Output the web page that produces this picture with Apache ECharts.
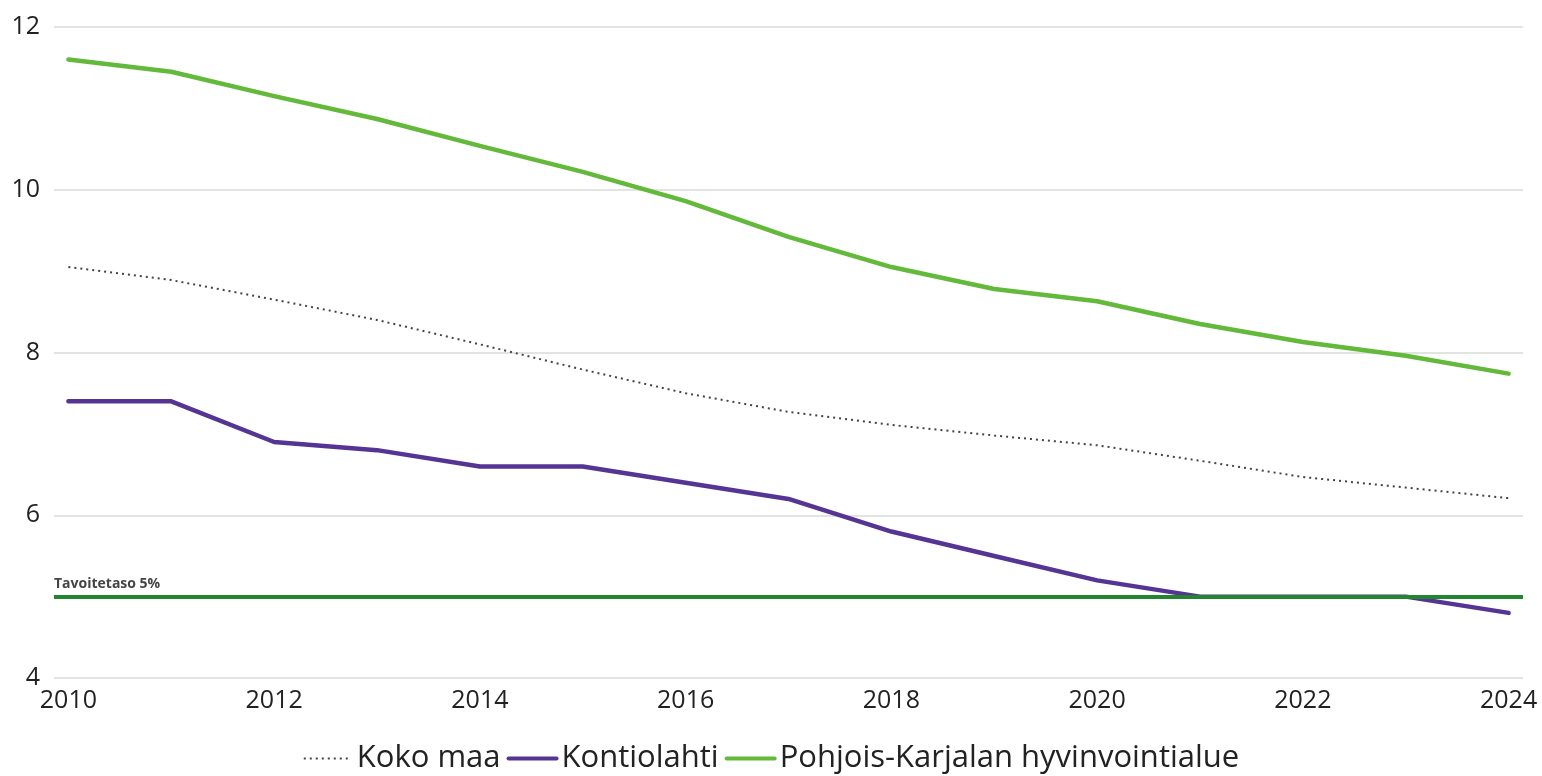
<!DOCTYPE html>
<html>
<head>
<meta charset="utf-8">
<script src="https://cdn.jsdelivr.net/npm/echarts@6/dist/echarts.min.js"></script>
<style>
  html, body { margin: 0; padding: 0; background: #fff; }
  #chart { width: 1542px; height: 776px; }
</style>
</head>
<body>
<div id="chart"></div>
<script>
const years = [2010, 2011, 2012, 2013, 2014, 2015, 2016, 2017, 2018, 2019, 2020, 2021, 2022, 2023, 2024];
const yearLabels = [2010, 2012, 2014, 2016, 2018, 2020, 2022, 2024];
const kokoMaa = [9.05, 8.89, 8.65, 8.4, 8.1, 7.79, 7.5, 7.27, 7.11, 6.98, 6.86, 6.67, 6.47, 6.34, 6.21];
const kontiolahti = [7.4, 7.4, 6.9, 6.8, 6.6, 6.6, 6.4, 6.2, 5.8, 5.5, 5.2, 5.0, 5.0, 5.0, 4.8];
const pohjoisKarjala = [11.6, 11.45, 11.15, 10.87, 10.54, 10.22, 9.86, 9.42, 9.05, 8.78, 8.63, 8.35, 8.13, 7.96, 7.74];
const targetLevel = 5;
const targetLabel = 'Tavoitetaso 5%';

const font = '"Open Sans", "Noto Sans", sans-serif';
const pair = (vals) => years.map((y, i) => [y, vals[i]]);

const chart = echarts.init(document.getElementById('chart'));
chart.setOption({
    animation: false,
    textStyle: { fontFamily: font },
    grid: { left: 54, right: 19, top: 27, bottom: 98 },
    legend: {
        bottom: -3,
        left: 'center',
        itemWidth: 48,
        itemHeight: 14,
        itemGap: 6,
        itemStyle: { opacity: 0 },
        textStyle: { fontSize: 31, color: '#222', fontFamily: font },
        data: [
            { name: 'Koko maa', lineStyle: { width: 2 } },
            { name: 'Kontiolahti', lineStyle: { width: 4 } },
            { name: 'Pohjois-Karjalan hyvinvointialue', lineStyle: { width: 4 } },
        ],
    },
    xAxis: {
        type: 'value',
        min: 2009.86,
        max: 2024.14,
        axisLine: { show: false },
        axisTick: { show: false },
        splitLine: { show: false },
        axisLabel: {
            customValues: yearLabels,
            fontSize: 25,
            color: '#222',
            margin: 10,
            formatter: (v) => String(v),
        },
    },
    yAxis: {
        type: 'value',
        min: 4,
        max: 12,
        interval: 2,
        axisLine: { show: false },
        axisTick: { show: false },
        splitLine: { lineStyle: { color: '#e1e4e1', width: 2 } },
        axisLabel: { fontSize: 25, color: '#222', margin: 14 },
    },
    series: [
        {
            name: 'Koko maa',
            type: 'line',
            data: pair(kokoMaa),
            symbol: 'none',
            color: '#444',
            lineStyle: { width: 2, type: [2, 4], color: '#444' },
        },
        {
            name: 'Kontiolahti',
            type: 'line',
            data: pair(kontiolahti),
            symbol: 'none',
            color: '#553494',
            lineStyle: { width: 4.5, color: '#553494', join: 'round', cap: 'round' },
            z: 3,
        },
        {
            name: 'Pohjois-Karjalan hyvinvointialue',
            type: 'line',
            data: pair(pohjoisKarjala),
            symbol: 'none',
            color: '#62b93a',
            lineStyle: { width: 4.5, color: '#62b93a', join: 'round', cap: 'round' },
            z: 4,
            markLine: {
                silent: true,
                symbol: 'none',
                lineStyle: { color: '#22862e', width: 4, type: 'solid' },
                label: {
                    show: true,
                    position: 'insideStartTop',
                    formatter: targetLabel,
                    fontSize: 14,
                    fontWeight: 'bold',
                    color: '#444',
                    distance: [0, 6],
                },
                data: [{ yAxis: targetLevel }],
            },
        },
    ],
});
</script>
</body>
</html>
